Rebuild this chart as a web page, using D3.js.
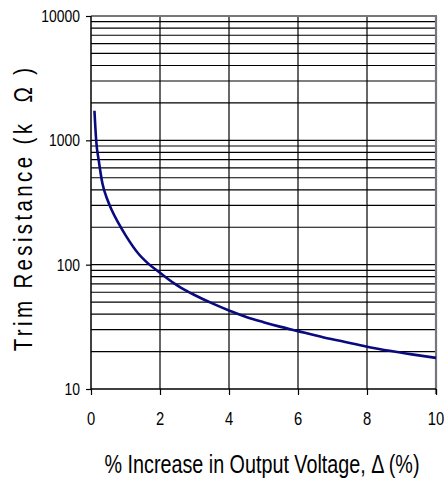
<!DOCTYPE html>
<html>
<head>
<meta charset="utf-8">
<script src="https://cdn.jsdelivr.net/npm/d3@7"></script>
<style>
  html, body { margin: 0; padding: 0; background: #fff; }
  svg { display: block; }
  text { font-family: "Liberation Sans", Arial, sans-serif; fill: #000; }
</style>
</head>
<body>
<svg id="chart" width="448" height="483"></svg>
<script>
// ---- data ----
const deltaPct = [0.1, 0.15, 0.23, 0.33, 0.48, 0.6, 0.8, 1.0, 1.37, 1.66, 2.0, 2.4, 2.6, 3.0, 3.5, 4.0, 4.5, 5.0, 5.5, 6.0, 6.75, 7.25, 8.0, 8.7, 9.3, 10.0];
const trimKOhm = [1730, 1000, 673, 451, 331, 275, 215, 173, 123, 102, 86, 71, 65.5, 57, 49, 42.8, 38, 34.5, 31.6, 29.2, 26, 24.3, 21.9, 20.2, 19, 17.8];
const xTicks = [0, 2, 4, 6, 8, 10];
const yTicks = [10, 100, 1000, 10000];
const xLabel = "% Increase in Output Voltage, \u0394 (%)";
const yLabel = "Trim Resistance (k  \u03A9 )";

const svg = d3.select("#chart");
const L = 91, R = 436, T = 16, B = 389;

const x = d3.scaleLinear().domain([0, 10]).range([L, R]);
const y = d3.scaleLog().domain([10, 10000]).range([B, T]);

// minor horizontal gridlines (2..9 per decade) and decade lines
const hGrid = [];
[10, 100, 1000].forEach(d => { for (let k = 1; k <= 9; k++) { if (d * k > 10) hGrid.push(d * k); } });
hGrid.push(10000);

svg.append("g").selectAll("line").data(hGrid).join("line")
  .attr("x1", L).attr("x2", R)
  .attr("y1", d => y(d)).attr("y2", d => y(d))
  .attr("stroke", "#000").attr("stroke-width", 1.2);

// vertical gridlines
svg.append("g").selectAll("line").data(xTicks.filter(d => d > 0 && d < 10)).join("line")
  .attr("x1", d => x(d)).attr("x2", d => x(d))
  .attr("y1", T).attr("y2", B)
  .attr("stroke", "#000").attr("stroke-width", 1.2);

// top & right border (gray)
svg.append("line").attr("x1", L).attr("x2", R + 1).attr("y1", T).attr("y2", T)
  .attr("stroke", "#76767e").attr("stroke-width", 2.2);
svg.append("line").attr("x1", R).attr("x2", R).attr("y1", T).attr("y2", B + 5)
  .attr("stroke", "#76767e").attr("stroke-width", 2.2);

// axes
const xAxis = d3.axisBottom(x).tickValues(xTicks).tickSize(6).tickFormat("");
const gx = svg.append("g").attr("transform", `translate(0,${B})`).call(xAxis);
gx.select(".domain").attr("stroke", "#000").attr("stroke-width", 1.3).attr("d", `M${L},0H${R}`);
gx.selectAll(".tick line").attr("stroke", "#000").attr("stroke-width", 1.2);

const yAxis = d3.axisLeft(y).tickValues(yTicks).tickSize(5).tickFormat("");
const gy = svg.append("g").attr("transform", `translate(${L},0)`).call(yAxis);
gy.select(".domain").attr("stroke", "#000").attr("stroke-width", 1.5).attr("d", `M0,${T}V${B}`);
gy.selectAll(".tick line").attr("stroke", "#000").attr("stroke-width", 1.2);

// tick labels (condensed sans)
svg.append("g").selectAll("text").data(xTicks).join("text")
  .attr("transform", d => `translate(${x(d)},425) scale(0.82,1)`)
  .attr("text-anchor", "middle")
  .style("font-size", "18px")
  .text(d => d);

svg.append("g").selectAll("text").data(yTicks).join("text")
  .attr("transform", d => `translate(80,${y(d)}) scale(0.82,1)`)
  .attr("text-anchor", "end")
  .attr("dy", "0.35em")
  .style("font-size", "17px")
  .text(d => d);

// curve
const line = d3.line().x(d => x(d[0])).y(d => y(d[1])).curve(d3.curveMonotoneX);
svg.append("path")
  .datum(deltaPct.map((d, i) => [d, trimKOhm[i]]))
  .attr("fill", "none")
  .attr("stroke", "#0a0a80")
  .attr("stroke-width", 2.6)
  .attr("stroke-linejoin", "round")
  .attr("d", line);

// axis titles
svg.append("text")
  .attr("transform", "translate(262,473) scale(0.79,1)")
  .attr("text-anchor", "middle")
  .style("font-size", "25px")
  .text(xLabel);

svg.append("text")
  .attr("transform", "translate(32,208) rotate(-90) scale(0.82,1)")
  .attr("text-anchor", "middle")
  .style("font-size", "25px")
  .style("letter-spacing", "4.1px")
  .style("white-space", "pre")
  .text(yLabel);
</script>
</body>
</html>
